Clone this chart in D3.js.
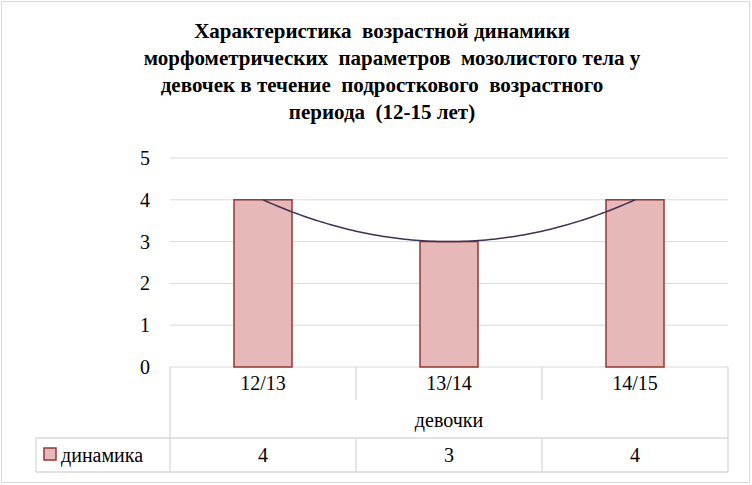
<!DOCTYPE html><html><head><meta charset="utf-8"><script src="https://cdn.jsdelivr.net/npm/d3@7"></script>
<style>body{margin:0;background:#fff} text{font-family:"Liberation Serif","Times New Roman","Tinos","DejaVu Serif",serif}</style></head><body><svg id="c" width="752" height="485"></svg><script>
const categories=["12/13","13/14","14/15"];
const groupLabel="девочки";
const seriesName="динамика";
const values=[4,3,4];
const yTicks=[0,1,2,3,4,5];
const titleLines=["Характеристика  возрастной динамики","морфометрических  параметров  мозолистого тела у","девочек в течение  подросткового  возрастного","периода  (12-15 лет)"];
const svg=d3.select("#c");
svg.append("rect").attr("x",1.5).attr("y",1.5).attr("width",748).attr("height",481).attr("fill","#fff").attr("stroke","#d9d9d9");
const tx=[382,392,382,382];
titleLines.forEach((t,i)=>svg.append("text").attr("x",tx[i]).attr("y",38+i*27).attr("text-anchor","middle").attr("font-weight","bold").attr("font-size",21).style("white-space","pre").text(t));
const x=d3.scaleBand().domain(categories).range([170,728]);
const y=d3.scaleLinear().domain([0,5]).range([367,158]);
const g=svg.append("g");
yTicks.forEach(t=>{g.append("line").attr("x1",170).attr("x2",728).attr("y1",y(t)).attr("y2",y(t)).attr("stroke","#d9d9d9");
 g.append("text").attr("x",150).attr("y",y(t)+7).attr("text-anchor","end").attr("font-size",20).text(t);});
g.selectAll("rect.b").data(values).join("rect").attr("x",(d,i)=>x(categories[i])+x.bandwidth()/2-29).attr("width",58)
 .attr("y",d=>y(d)).attr("height",d=>y(0)-y(d)).attr("fill","#e6b9b8").attr("stroke","#953735").attr("stroke-width",1.5);
const [a,b,c]=(()=>{const [y1,y2,y3]=values;const A=(y3-2*y2+y1)/2;const B=(y2-y1)-A*3;const C=y1-A-B;return[A,B,C];})();
const xi=d3.scaleLinear().domain([1,3]).range([x(categories[0])+x.bandwidth()/2,x(categories[2])+x.bandwidth()/2]);
const pts=d3.range(1,3.001,0.02).map(t=>[xi(t),y(a*t*t+b*t+c)]);
g.append("path").attr("d",d3.line()(pts)).attr("fill","none").attr("stroke","#403152").attr("stroke-width",1.5);
const L="#d9d9d9";
const ln=(x1,y1,x2,y2)=>g.append("line").attr("x1",x1).attr("y1",y1).attr("x2",x2).attr("y2",y2).attr("stroke",L).attr("stroke-width",1.3);
ln(170,367,170,472);
[1,2].forEach(i=>ln(x(categories[i]),367,x(categories[i]),400));
ln(728,367,728,472);
ln(36,438,728,438);ln(36,472,728,472);ln(36,438,36,472);
[1,2].forEach(i=>ln(x(categories[i]),438,x(categories[i]),472));
categories.forEach((cat,i)=>{const cx=x(cat)+x.bandwidth()/2;
 g.append("text").attr("x",cx).attr("y",390).attr("text-anchor","middle").attr("font-size",20).text(cat);
 g.append("text").attr("x",cx).attr("y",462).attr("text-anchor","middle").attr("font-size",20).text(values[i]);});
g.append("text").attr("x",449).attr("y",427).attr("text-anchor","middle").attr("font-size",20).text(groupLabel);
g.append("rect").attr("x",44).attr("y",448).attr("width",12).attr("height",12).attr("fill","#e6b9b8").attr("stroke","#953735").attr("stroke-width",1.5);
g.append("text").attr("x",61).attr("y",462).attr("font-size",20).text(seriesName);
</script></body></html>
